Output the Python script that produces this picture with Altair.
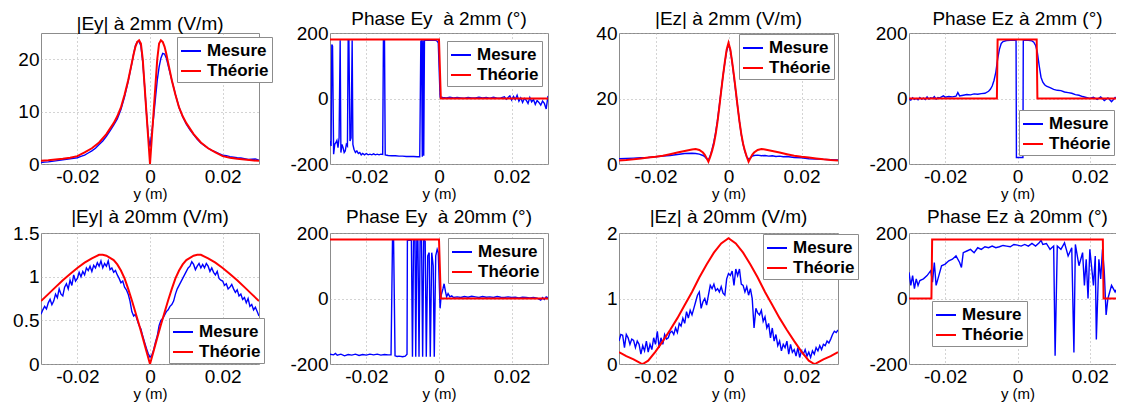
import altair as alt
import pandas as pd

FONT = "Liberation Sans"
SERIES = ["Mesure", "Théorie"]
COLORS = ["#0000ff", "#ff0000"]
X_TICKS = [-0.02, 0, 0.02]

# ---------------- |Ey| à 2mm ----------------
ey2_tx = [-0.030, -0.028, -0.026, -0.024, -0.022, -0.020, -0.018, -0.016, -0.014, -0.012,
          -0.010, -0.009, -0.008, -0.007, -0.006, -0.005, -0.0045, -0.004, -0.0035, -0.003,
          -0.0025, -0.002, -0.0015, -0.001, -0.0005, 0.0,
          0.0005, 0.001, 0.0015, 0.002, 0.0025, 0.003, 0.0035, 0.004, 0.0045, 0.005,
          0.006, 0.007, 0.008, 0.009, 0.010, 0.012, 0.014, 0.016, 0.018, 0.020,
          0.022, 0.024, 0.026, 0.028, 0.030]
ey2_ty = [0.6, 0.7, 0.85, 1.0, 1.2, 1.5, 2.2, 3.0, 4.1, 5.7,
          7.8, 9.1, 10.8, 13.2, 16.0, 19.3, 21.0, 22.4, 23.3, 23.6,
          23.0, 20.0, 15.0, 10.0, 5.0, 0.0,
          5.0, 10.0, 15.0, 20.0, 23.0, 23.6, 23.3, 22.4, 21.0, 19.3,
          16.0, 13.2, 10.8, 9.1, 7.8, 5.7, 4.1, 3.0, 2.2, 1.5,
          1.2, 1.0, 0.85, 0.7, 0.6]
ey2_mx = [-0.030, -0.029, -0.028, -0.027, -0.026, -0.025, -0.024, -0.023, -0.022, -0.021,
          -0.020, -0.019, -0.018, -0.017, -0.016, -0.015, -0.014, -0.013, -0.012, -0.011,
          -0.010, -0.009, -0.008, -0.007, -0.006, -0.005, -0.0045, -0.004, -0.0035, -0.003,
          -0.0025, -0.002, -0.0015, -0.001, -0.0005, 0.0, 0.0005, 0.001, 0.0015, 0.002,
          0.0025, 0.003, 0.0035, 0.004, 0.0045, 0.005, 0.006, 0.007, 0.008, 0.009,
          0.010, 0.011, 0.012, 0.013, 0.014, 0.015, 0.016, 0.017, 0.018, 0.019,
          0.020, 0.021, 0.022, 0.023, 0.024, 0.025, 0.026, 0.027, 0.028, 0.029,
          0.030]
ey2_my = [0.3, 0.35, 0.4, 0.5, 0.6, 0.7, 0.8, 0.9, 1.0, 1.1,
          1.2, 1.45, 1.7, 2.1, 2.5, 3.0, 3.7, 4.4, 5.3, 6.3,
          7.4, 8.6, 10.4, 12.8, 15.8, 19.2, 21.0, 22.6, 23.3, 23.4,
          22.5, 19.5, 15.0, 10.0, 5.5, 3.3, 6.0, 9.0, 12.5, 16.0,
          18.5, 20.2, 21.1, 21.0, 20.2, 18.8, 16.0, 13.3, 10.8, 9.0,
          7.6, 6.5, 5.6, 4.7, 4.0, 3.5, 3.0, 2.6, 2.3, 2.0,
          1.7, 1.6, 1.4, 1.3, 1.2, 1.15, 1.0, 0.85, 0.9, 0.95,
          0.7]

# ---------------- Phase Ey à 2mm ----------------
pey_tx = [-0.030, 0.0, 0.0005, 0.030]
pey_ty = [180, 180, 0, 0]
pey2_mx = [-0.0300, -0.0297, -0.0295, -0.0293, -0.0290, -0.0287, -0.0284, -0.0281, -0.0278, -0.0275,
           -0.0272, -0.0270, -0.0267, -0.0264, -0.0261, -0.0258, -0.0255, -0.0252, -0.0250, -0.0248,
           -0.0245, -0.0242, -0.0239, -0.0237, -0.0234, -0.0230, -0.0226, -0.0222, -0.0218, -0.0214,
           -0.0210, -0.0205, -0.0200, -0.0195, -0.0190, -0.0185, -0.0180, -0.0175, -0.0170, -0.0165,
           -0.0160, -0.0155, -0.0153, -0.0150, -0.0148, -0.0140, -0.0130, -0.0120, -0.0110, -0.0100,
           -0.0090, -0.0080, -0.0070, -0.0060, -0.0053, -0.0050, -0.0048, -0.0046, -0.0044, -0.0042,
           -0.0040, -0.0035, -0.0030, -0.0020, -0.0010, -0.0005, -0.0002, 0.0003, 0.0010, 0.0020,
           0.0030, 0.0040, 0.0050, 0.0060, 0.0070, 0.0080, 0.0090, 0.0100, 0.0110, 0.0120,
           0.0130, 0.0140, 0.0150, 0.0160, 0.0170, 0.0180, 0.0185, 0.0190, 0.0195, 0.0200,
           0.0205, 0.0210, 0.0215, 0.0220, 0.0225, 0.0230, 0.0235, 0.0240, 0.0245, 0.0250,
           0.0255, 0.0260, 0.0265, 0.0270, 0.0275, 0.0280, 0.0285, 0.0290, 0.0295, 0.0300]
pey2_my = [-130, -145, 165, 160, -170, -140, -135, -128, -150, -120,
           178, -165, -140, -150, -165, -160, -140, -145, 178, 178,
           -130, -120, 178, -140, -155, -165, -160, -168, -165, -172,
           -168, -172, -168, -172, -170, -172, -169, -172, -170, -172,
           -170, -171, 178, 178, -172, -174, -175, -175, -176, -176,
           -177, -177, -177, -178, -178, 175, 176, -178, 178, -175,
           178, 178, 178, 178, 178, 175, 170, 5, 3, 2,
           4, 2, 3, 2, 1, 3, 2, 2, 4, 2,
           3, 1, 4, 1, 2, 5, -2, 3, 8, -5,
           6, -3, 10, -8, 2, -12, 0, -5, -15, 3,
           -10, -3, -18, -6, -12, -20, -8, -15, -32, 8]

# ---------------- |Ez| à 2mm ----------------
ez2_tx = [-0.030, -0.028, -0.026, -0.024, -0.022, -0.020, -0.018, -0.016, -0.014, -0.012,
          -0.010, -0.009, -0.008, -0.007, -0.0065, -0.006, -0.0055, -0.005, -0.0045, -0.004,
          -0.0035, -0.003, -0.0025, -0.002, -0.0015, -0.001, -0.0005, 0.0,
          0.0005, 0.001, 0.0015, 0.002, 0.0025, 0.003, 0.0035, 0.004, 0.0045, 0.005,
          0.0055, 0.006, 0.0065, 0.007, 0.008, 0.009, 0.010, 0.012, 0.014, 0.016,
          0.018, 0.020, 0.022, 0.024, 0.026, 0.028, 0.030]
ez2_ty = [1.1, 1.25, 1.45, 1.7, 1.95, 2.2, 2.55, 3.0, 3.5, 4.0,
          4.45, 4.6, 4.3, 3.5, 2.8, 1.8, 0.7, 2.2, 4.0, 6.2,
          9.2, 13.0, 17.5, 22.3, 27.0, 31.2, 35.0, 37.0,
          35.0, 31.2, 27.0, 22.3, 17.5, 13.0, 9.2, 6.2, 4.0, 2.2,
          0.7, 1.8, 2.8, 3.5, 4.3, 4.6, 4.45, 4.0, 3.5, 3.0,
          2.55, 2.2, 1.95, 1.7, 1.45, 1.25, 1.1]
ez2_mx = [-0.030, -0.028, -0.026, -0.024, -0.022, -0.020, -0.018, -0.016, -0.014, -0.012,
          -0.010, -0.009, -0.008, -0.007, -0.0065, -0.006, -0.0055, -0.005, -0.0045, -0.004,
          -0.0035, -0.003, -0.0025, -0.002, -0.0015, -0.001, -0.0005, 0.0, 0.0005, 0.001,
          0.0015, 0.002, 0.0025, 0.003, 0.0035, 0.004, 0.0045, 0.005, 0.0055, 0.006,
          0.0065, 0.007, 0.008, 0.009, 0.010, 0.011, 0.012, 0.013, 0.014, 0.015,
          0.016, 0.018, 0.020, 0.022, 0.024, 0.026, 0.028, 0.030]
ez2_my = [1.6, 1.7, 1.8, 1.9, 2.0, 2.2, 2.4, 2.6, 2.9, 3.2,
          3.3, 3.2, 3.0, 2.6, 2.2, 1.6, 1.3, 2.5, 4.5, 6.8,
          9.8, 13.5, 18.0, 22.5, 27.0, 31.0, 34.5, 36.5, 34.8, 31.0,
          26.5, 22.0, 17.5, 13.0, 9.0, 6.0, 3.8, 2.2, 1.5, 1.8,
          2.4, 2.6, 2.7, 2.5, 2.6, 2.4, 2.5, 2.3, 2.4, 2.2,
          2.3, 2.0, 1.9, 1.6, 1.5, 1.4, 1.3, 1.2]

# ---------------- Phase Ez à 2mm ----------------
pez2_tx = [-0.030, -0.0057, -0.0055, 0.0053, 0.0055, 0.030]
pez2_ty = [0, 0, 180, 180, 0, 0]
pez2_mx = [-0.0300, -0.0295, -0.0290, -0.0285, -0.0280, -0.0275, -0.0270, -0.0265, -0.0260, -0.0255,
           -0.0250, -0.0245, -0.0240, -0.0235, -0.0230, -0.0225, -0.0220, -0.0215, -0.0210, -0.0205,
           -0.0200, -0.0190, -0.0180, -0.0170, -0.0165, -0.0160, -0.0150, -0.0140, -0.0130, -0.0120,
           -0.0110, -0.0100, -0.0090, -0.0080, -0.0075, -0.0070, -0.0065, -0.0060, -0.0055, -0.0050,
           -0.0045, -0.0040, -0.0030, -0.0020, -0.0010, -0.0004, -0.0003, 0.0015, 0.0016, 0.0020,
           0.0030, 0.0040, 0.0045, 0.0050, 0.0055, 0.0060, 0.0065, 0.0070, 0.0075, 0.0080,
           0.0090, 0.0100, 0.0110, 0.0120, 0.0130, 0.0140, 0.0150, 0.0160, 0.0170, 0.0180,
           0.0190, 0.0200, 0.0210, 0.0220, 0.0230, 0.0240, 0.0250, 0.0260, 0.0270, 0.0280,
           0.0290, 0.0300]
pez2_my = [-2, -5, 2, -3, 0, -4, 3, -2, 1, -3,
           5, -2, 2, 0, 6, -2, 3, 2, 5, 8,
           4, 6, 5, 7, 18, 8, 10, 12, 11, 14,
           13, 15, 16, 22, 28, 38, 55, 80, 120, 150,
           168, 174, 177, 178, 178, 178, -180, -180, 178, 178,
           178, 176, 172, 162, 140, 100, 65, 50, 42, 38,
           33, 28, 25, 24, 20, 18, 16, 12, 10, 6,
           3, 0, 4, -3, 5, -6, 2, -10, 3, -5,
           -2, 0]

# ---------------- |Ey| à 20mm ----------------
ey20_tx = [-0.030, -0.028, -0.026, -0.024, -0.022, -0.020, -0.018, -0.016, -0.014, -0.013,
           -0.012, -0.010, -0.009, -0.008, -0.007, -0.006, -0.005, -0.004, -0.003, -0.002,
           -0.001, 0.0, 0.001, 0.002, 0.003, 0.004, 0.005, 0.006, 0.007, 0.008,
           0.009, 0.010, 0.012, 0.013, 0.014, 0.016, 0.018, 0.020, 0.022, 0.024,
           0.026, 0.028, 0.030]
ey20_ty = [0.72, 0.80, 0.88, 0.96, 1.03, 1.10, 1.16, 1.21, 1.25, 1.25,
           1.24, 1.19, 1.14, 1.07, 0.98, 0.86, 0.73, 0.59, 0.45, 0.30,
           0.15, 0.0, 0.15, 0.30, 0.45, 0.59, 0.73, 0.86, 0.98, 1.07,
           1.14, 1.19, 1.24, 1.25, 1.25, 1.21, 1.16, 1.10, 1.03, 0.96,
           0.88, 0.80, 0.72]
ey20_mx = [round(-0.030 + 0.0005 * i, 4) for i in range(121)]
ey20_my = [0.57, 0.62, 0.66, 0.63, 0.70, 0.74, 0.68, 0.72, 0.80, 0.76,
           0.86, 0.80, 0.78, 0.88, 0.92, 0.86, 0.96, 0.90, 1.02, 0.95,
           0.98, 1.05, 1.00, 1.06, 1.02, 1.10, 1.07, 1.12, 1.06, 1.13,
           1.10, 1.16, 1.12, 1.18, 1.10, 1.15, 1.12, 1.18, 1.08, 1.10,
           1.05, 1.07, 1.02, 0.98, 0.93, 0.95, 0.88, 0.85, 0.80, 0.72,
           0.60, 0.55, 0.57, 0.50, 0.44, 0.40, 0.32, 0.25, 0.18, 0.12,
           0.08, 0.10, 0.16, 0.25, 0.32, 0.44, 0.50, 0.52, 0.56, 0.60,
           0.62, 0.66, 0.68, 0.72, 0.80, 0.86, 0.90, 0.94, 0.98, 1.02,
           1.06, 1.10, 1.12, 1.17, 1.14, 1.08, 1.12, 1.15, 1.10, 1.14,
           1.10, 1.15, 1.12, 1.06, 1.10, 1.05, 1.02, 1.06, 0.98, 0.96,
           0.95, 0.90, 0.92, 0.86, 0.88, 0.91, 0.86, 0.82, 0.85, 0.78,
           0.80, 0.74, 0.76, 0.70, 0.75, 0.66, 0.68, 0.62, 0.65, 0.60,
           0.55]

# ---------------- Phase Ey à 20mm ----------------
pey20_mx = [-0.0300, -0.0290, -0.0285, -0.0280, -0.0270, -0.0260, -0.0250, -0.0240, -0.0230, -0.0220,
            -0.0210, -0.0200, -0.0190, -0.0180, -0.0170, -0.0160, -0.0150, -0.0140, -0.0132, -0.0128,
            -0.0125, -0.0121, -0.0115, -0.0110, -0.0100, -0.0093, -0.0088, -0.0087, -0.0080, -0.0076,
            -0.0073, -0.0070, -0.0066, -0.0064, -0.0061, -0.0058, -0.0055, -0.0052, -0.0048, -0.0045,
            -0.0042, -0.0038, -0.0035, -0.0031, -0.0027, -0.0024, -0.0020, -0.0016, -0.0013, -0.0009,
            -0.0005, -0.0002, 0.0003, 0.0006, 0.0011, 0.0014, 0.0018, 0.0021, 0.0025, 0.0030,
            0.0035, 0.0040, 0.0050, 0.0060, 0.0070, 0.0080, 0.0090, 0.0100, 0.0110, 0.0120,
            0.0130, 0.0140, 0.0150, 0.0160, 0.0170, 0.0180, 0.0190, 0.0200, 0.0210, 0.0220,
            0.0230, 0.0240, 0.0250, 0.0260, 0.0270, 0.0280, 0.0285, 0.0290, 0.0295, 0.0300]
pey20_my = [-170, -172, -168, -173, -170, -175, -171, -173, -170, -174,
            -171, -173, -170, -172, -170, -173, -171, -172, -172, 178,
            178, -175, -177, -176, -178, -176, -170, 178, 178, 178,
            -178, 178, 178, -178, 178, 178, -178, 178, 178, -178,
            178, 175, -178, 130, 140, -178, 140, 100, -178, 130,
            150, 140, -30, 10, 30, 45, 20, 5, 15, 5,
            8, 3, 5, 3, 6, 4, 7, 5, 3, 6,
            4, 5, 3, 6, 4, 3, 5, 3, 4, 2,
            4, 3, 2, 3, 1, -5, 3, -3, 5, 2]

# ---------------- |Ez| à 20mm ----------------
ez20_tx = [-0.030, -0.028, -0.026, -0.025, -0.024, -0.0235, -0.022, -0.020, -0.018, -0.016,
           -0.014, -0.012, -0.010, -0.008, -0.006, -0.004, -0.002, 0.0, 0.002, 0.004,
           0.006, 0.008, 0.010, 0.012, 0.014, 0.016, 0.018, 0.020, 0.022, 0.0235,
           0.024, 0.025, 0.026, 0.028, 0.030]
ez20_ty = [0.18, 0.12, 0.07, 0.04, 0.01, 0.0, 0.05, 0.19, 0.35, 0.52,
           0.70, 0.90, 1.10, 1.32, 1.52, 1.70, 1.84, 1.92, 1.84, 1.70,
           1.52, 1.32, 1.10, 0.90, 0.70, 0.52, 0.35, 0.19, 0.05, 0.0,
           0.01, 0.04, 0.07, 0.12, 0.18]
ez20_mx = [round(-0.030 + 0.0005 * i, 4) for i in range(121)]
ez20_my = [0.35, 0.45, 0.44, 0.25, 0.45, 0.40, 0.30, 0.38, 0.36, 0.25,
           0.35, 0.30, 0.15, 0.28, 0.20, 0.35, 0.18, 0.30, 0.22, 0.40,
           0.30, 0.50, 0.25, 0.40, 0.30, 0.45, 0.38, 0.40, 0.48, 0.50,
           0.45, 0.55, 0.48, 0.62, 0.58, 0.70, 0.62, 0.80, 0.70, 0.82,
           0.75, 0.85, 0.95, 1.05, 1.10, 0.85, 0.95, 1.00, 0.90, 1.05,
           1.20, 1.15, 1.22, 1.12, 1.15, 1.10, 1.18, 1.08, 1.05, 1.30,
           1.38, 1.35, 1.42, 1.20, 1.45, 1.35, 1.45, 1.22, 1.20, 1.10,
           1.18, 1.05, 1.15, 1.00, 0.55, 0.85, 0.78, 0.75, 0.82, 0.65,
           0.72, 0.55, 0.62, 0.40, 0.55, 0.35, 0.45, 0.28, 0.35, 0.20,
           0.30, 0.25, 0.35, 0.15, 0.30, 0.18, 0.22, 0.12, 0.25, 0.10,
           0.20, 0.15, 0.22, 0.12, 0.18, 0.10, 0.20, 0.15, 0.25, 0.20,
           0.28, 0.22, 0.30, 0.28, 0.35, 0.32, 0.38, 0.45, 0.50, 0.48,
           0.52]

# ---------------- Phase Ez à 20mm ----------------
pez20_tx = [-0.030, -0.0238, -0.0236, 0.0236, 0.0238, 0.030]
pez20_ty = [0, 0, 180, 180, 0, 0]
pez20_mx = [-0.0300, -0.0295, -0.0290, -0.0285, -0.0280, -0.0275, -0.0270, -0.0260, -0.0250, -0.0240,
            -0.0235, -0.0230, -0.0225, -0.0220, -0.0210, -0.0200, -0.0190, -0.0180, -0.0170, -0.0160,
            -0.0155, -0.0150, -0.0140, -0.0130, -0.0120, -0.0110, -0.0100, -0.0090, -0.0080, -0.0070,
            -0.0060, -0.0050, -0.0040, -0.0030, -0.0020, -0.0010, 0.0000, 0.0010, 0.0020, 0.0030,
            0.0040, 0.0050, 0.0060, 0.0065, 0.0070, 0.0080, 0.0090, 0.0100, 0.0104, 0.0110,
            0.0120, 0.0130, 0.0140, 0.0150, 0.0156, 0.0160, 0.0170, 0.0180, 0.0185, 0.0190,
            0.0195, 0.0200, 0.0210, 0.0215, 0.0218, 0.0225, 0.0230, 0.0235, 0.0240, 0.0245,
            0.0250, 0.0260, 0.0270, 0.0280, 0.0290, 0.0300]
pez20_my = [80, 40, 70, 30, 60, 40, 55, 60, 70, 85,
            50, 110, 40, 60, 100, 105, 115, 120, 130, 110,
            95, 140, 145, 150, 140, 155, 150, 158, 155, 160,
            155, 158, 162, 160, 158, 165, 163, 160, 165, 160,
            168, 160, 170, 178, 165, 168, 150, 160, -175, 160,
            150, 170, 130, 155, -165, 165, 100, 140, 40, 120,
            0, 150, 40, 130, -125, 120, 60, 150, 80, -50,
            0, 40, 20, 40, 15, 25]

LBL = "replace(format(datum.value, '~g'), '\u2212', '-')"
H = 131


def panel(title, mx, my, tx, ty, ydom, yticks, lx, ly, w, toff):
    dm = pd.DataFrame({"x": mx, "v": my, "s": SERIES[0]})
    dt = pd.DataFrame({"x": tx, "v": ty, "s": SERIES[1]})
    xenc = alt.X("x:Q", scale=alt.Scale(domain=[-0.03, 0.03], nice=False, zero=False),
                 axis=alt.Axis(values=X_TICKS, title="y (m)", labelExpr=LBL))
    yenc = alt.Y("v:Q", scale=alt.Scale(domain=ydom, nice=False, zero=False),
                 axis=alt.Axis(values=yticks, title=None, labelExpr=LBL))
    cenc = alt.Color("s:N", scale=alt.Scale(domain=SERIES, range=COLORS),
                     legend=alt.Legend(title=None, orient="none", legendX=lx, legendY=ly))
    m = alt.Chart(dm).mark_line(strokeWidth=1.4, clip=True).encode(x=xenc, y=yenc, color=cenc)
    t = alt.Chart(dt).mark_line(strokeWidth=2, clip=True).encode(x=xenc, y=yenc, color=cenc)
    return alt.layer(m, t).properties(
        width=w, height=H,
        title=alt.TitleParams(title, frame="group", offset=toff),
    )


p1 = panel("|Ey| à 2mm (V/m)", ey2_mx, ey2_my, ey2_tx, ey2_ty, [0, 25], [0, 10, 20], 136, 4, 218, -0.5)
p2 = panel("Phase Ey\u00a0 à 2mm (°)", pey2_mx, pey2_my, pey_tx, pey_ty, [-200, 200], [-200, 0, 200], 117, 8, 218, -4.5)
p3 = panel("|Ez| à 2mm (V/m)", ez2_mx, ez2_my, ez2_tx, ez2_ty, [0, 40], [0, 20, 40], 120, 1, 219, -4.5)
p4 = panel("Phase Ez à 2mm (°)", pez2_mx, pez2_my, pez2_tx, pez2_ty, [-200, 200], [-200, 0, 200], 110, 77, 217, -4.5)
p5 = panel("|Ey| à 20mm (V/m)", ey20_mx, ey20_my, ey20_tx, ey20_ty, [0, 1.5], [0, 0.5, 1, 1.5], 128, 85, 218, -2.5)
p6 = panel("Phase Ey\u00a0 à 20mm (°)", pey20_mx, pey20_my, pey_tx, pey_ty, [-200, 200], [-200, 0, 200], 118, 5, 218, -2.5)
p7 = panel("|Ez| à 20mm (V/m)", ez20_mx, ez20_my, ez20_tx, ez20_ty, [0, 2], [0, 1, 2], 144, 1, 219, -2.5)
p8 = panel("Phase Ez à 20mm (°)", pez20_mx, pez20_my, pez20_tx, pez20_ty, [-200, 200], [-200, 0, 200], 23, 68, 217, -2.5)

chart = alt.concat(
    p1, p2, p3, p4, p5, p6, p7, p8,
    columns=4, spacing={"row": 69, "column": 71}, bounds="flush"
).resolve_scale(
    x="independent", y="independent", color="independent"
).resolve_legend(color="independent").properties(
    autosize=alt.AutoSizeParams(type="none"),
    padding={"left": 33, "top": 25, "right": 1075, "bottom": 371},
).configure(font=FONT).configure_view(
    stroke="#8c8c8c", strokeWidth=1
).configure_axis(
    domain=False, ticks=False, tickSize=0, grid=True, gridColor="#a8a8a8", gridDash=[1, 3],
    gridWidth=1, labelFont=FONT, labelFontSize=19, labelColor="#000000",
    titleFont=FONT, titleFontSize=15, titleFontWeight="normal", titleColor="#000000", titlePadding=0
).configure_axisX(labelPadding=3).configure_axisY(labelPadding=2).configure_legend(
    labelFont=FONT, labelFontSize=17, labelFontWeight="bold", labelColor="#000000",
    strokeColor="#8c8c8c", fillColor="white", padding=3, symbolType="stroke",
    symbolSize=400, symbolStrokeWidth=2, rowPadding=1, labelOffset=5
).configure_title(font=FONT, fontSize=19, fontWeight="normal", color="#000000", anchor="middle")

chart.save("out.html", embed_options={"renderer": "svg", "actions": False})
